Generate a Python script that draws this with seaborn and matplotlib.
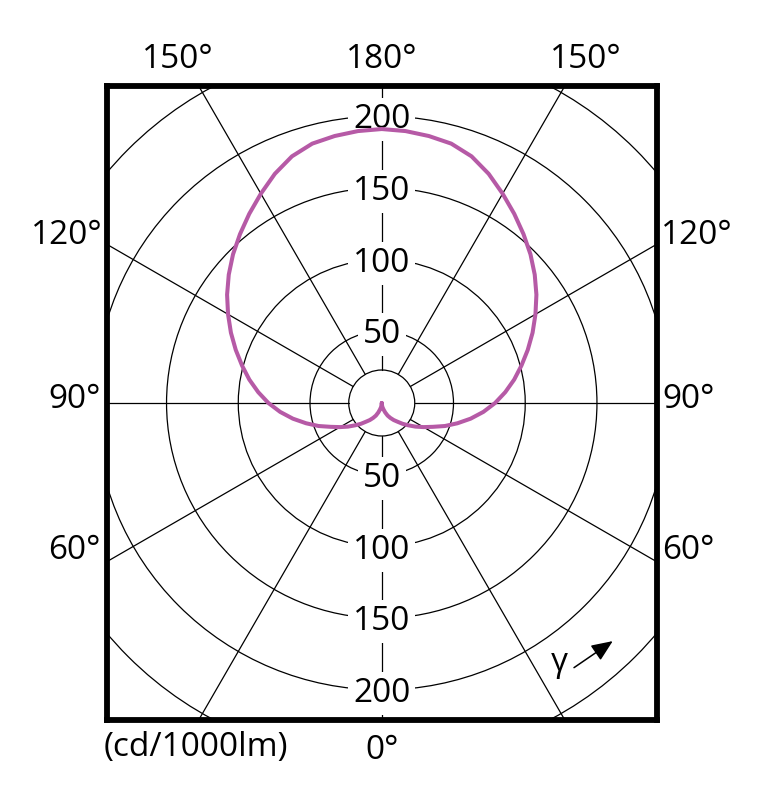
import numpy as np
import pandas as pd
import matplotlib
matplotlib.use("Agg")
import matplotlib.pyplot as plt
from matplotlib.patches import Circle
import seaborn as sns

# Intensity distribution (cd/1000lm), symmetric about 0-180
gamma = [0, 5, 10, 15, 20, 25, 30, 35, 40, 45, 50, 55, 60, 65, 70, 75, 80, 85, 90,
         95, 100, 105, 110, 115, 120, 125, 130, 135, 140, 145, 150, 155, 160, 165, 170, 175, 180]
intensity = [0, 1.5, 3, 4.6, 7, 9.7, 12, 14.5, 17, 20.5, 24.2, 28.7, 33.6, 39.3, 46.9, 54.6, 62.9, 71.1, 79,
             86.4, 93.7, 100.8, 108.3, 116, 123.7, 131.6, 139.2, 146.6, 153.7, 161, 168.5, 176.3, 183, 187.2, 189, 190.3, 191]

ring_values = [50, 100, 150, 200, 250]
ring_labels = ["50", "100", "150", "200"]
spoke_angles = list(range(0, 360, 30))
inner_r = 23

side_labels = ["60°", "90°", "120°", "150°"]
top_label = "180°"
bottom_label = "0°"
unit_label = "(cd/1000lm)"

sns.set_style("white")
plt.rcParams["font.family"] = ["Open Sans", "DejaVu Sans"]
plt.rcParams["text.color"] = "black"

g = np.radians(gamma)
I = np.array(intensity)
# right half 0 -> 180, left half 180 -> 0
xs = np.concatenate([I * np.sin(g), -(I * np.sin(g))[::-1]])
ys = np.concatenate([-I * np.cos(g), (-I * np.cos(g))[::-1]])
df = pd.DataFrame({"x": xs, "y": ys})

fig = plt.figure(figsize=(7.61, 7.93), dpi=100)
ax = fig.add_axes([107 / 761, 73 / 793, 549.5 / 761, 634 / 793])
ax.set_xlim(-191.5, 191.5)
ax.set_ylim(-221, 221)
ax.set_xticks([])
ax.set_yticks([])
for s in ax.spines.values():
    s.set_visible(True)
    s.set_color("black")
    s.set_linewidth(4.2)

grid_kw = dict(color="black", linewidth=0.9)
# circles
ax.add_patch(Circle((0, 0), inner_r, fill=False, zorder=1, **grid_kw))
for r in ring_values:
    ax.add_patch(Circle((0, 0), r, fill=False, zorder=1, **grid_kw))
# spokes
for a in spoke_angles:
    t = np.radians(a)
    ax.plot([inner_r * np.sin(t), 400 * np.sin(t)], [-inner_r * np.cos(t), -400 * np.cos(t)],
            zorder=1, **grid_kw)

# ring value labels on the vertical axis
for v, lab in zip(ring_values, ring_labels):
    for sgn in (1, -1):
        ax.text(0, sgn * v - 2.5, lab, ha="center", va="center", fontsize=24, zorder=3,
                bbox=dict(facecolor="white", edgecolor="none", pad=3.5))

sns.lineplot(data=df, x="x", y="y", sort=False, estimator=None, color="#B65AA6",
             linewidth=2.9, ax=ax, zorder=4)
ax.set_xlabel("")
ax.set_ylabel("")

# angle labels outside the frame
lab_kw = dict(ha="center", va="center", fontsize=24, clip_on=False)
side_pos = {"60°": (214, -103), "90°": (214, 2.5), "120°": (219.5, 117), "150°": (142, 239.5)}
for lab in side_labels:
    x, y = side_pos[lab]
    ax.text(-x, y, lab, **lab_kw)
    ax.text(x, y, lab, **lab_kw)
ax.text(0, 239.5, top_label, **lab_kw)
ax.text(0, -242, bottom_label, **lab_kw)
ax.text(-194, -240, unit_label, ha="left", va="center", fontsize=24, clip_on=False)

# gamma direction marker
ax.text(124, -181, "γ", ha="center", va="center", fontsize=24)
ax.annotate("", xy=(161, -166), xytext=(134, -184.5),
            arrowprops=dict(arrowstyle="-|>,head_length=1.3,head_width=0.55",
                            color="black", linewidth=1.1, shrinkA=0, shrinkB=0))

fig.savefig("out.png", dpi=100)
